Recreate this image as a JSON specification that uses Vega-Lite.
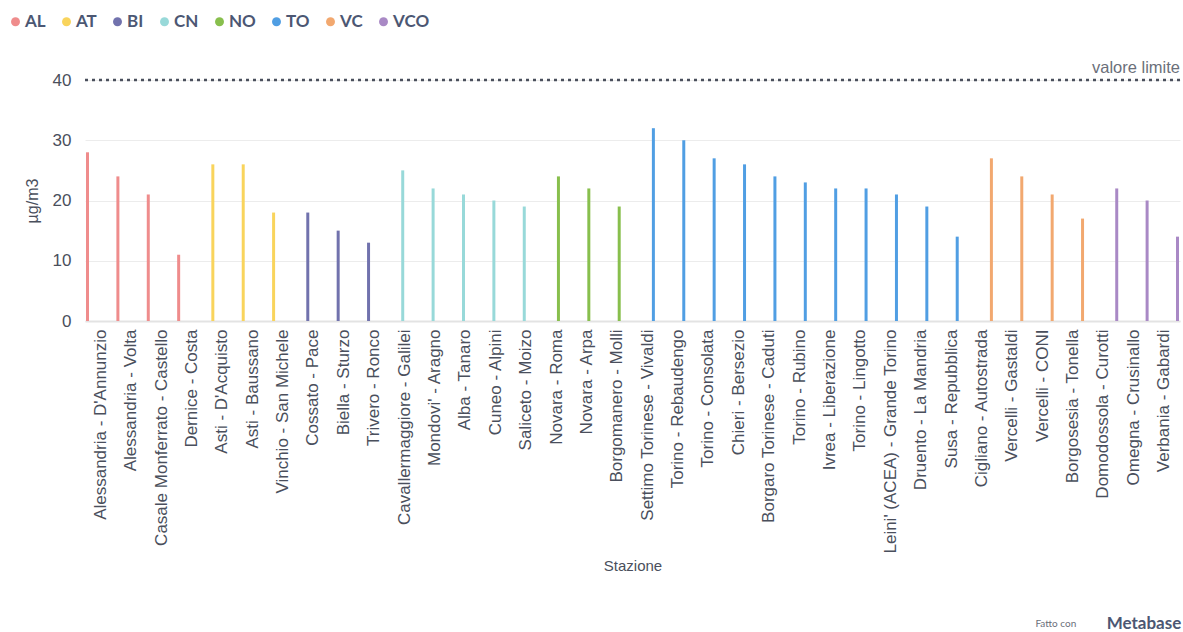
{
  "$schema": "https://vega.github.io/schema/vega-lite/v6.json",
  "width": 1095,
  "height": 241,
  "autosize": {"type": "none"},
  "padding": {"left": 85, "top": 80, "right": 3, "bottom": 311},
  "background": "white",
  "config": {
    "view": {"stroke": null},
    "font": "Liberation Sans",
    "axis": {"labelFont": "Liberation Sans", "titleFont": "Liberation Sans"}
  },
  "title": {
    "text": "Metabase",
    "subtitle": "Fatto con\u2003\u2003\u2003\u2003\u2003\u2003\u2003\u2003\u2003\u2003\u2003\u2003\u2003\u2003\u200b",
    "orient": "bottom",
    "anchor": "end",
    "font": "Lato",
    "fontSize": 17,
    "fontWeight": "bold",
    "color": "#4c5773",
    "subtitleFont": "Lato",
    "subtitleFontSize": 10,
    "subtitleColor": "#6b6f7a",
    "subtitlePadding": -14,
    "offset": 43
  },
  "layer": [
    {
      "data": {
        "values": [
          {"stazione": "Alessandria - D'Annunzio", "provincia": "AL", "valore": 28},
          {"stazione": "Alessandria - Volta", "provincia": "AL", "valore": 24},
          {"stazione": "Casale Monferrato - Castello", "provincia": "AL", "valore": 21},
          {"stazione": "Dernice - Costa", "provincia": "AL", "valore": 11},
          {"stazione": "Asti - D'Acquisto", "provincia": "AT", "valore": 26},
          {"stazione": "Asti - Baussano", "provincia": "AT", "valore": 26},
          {"stazione": "Vinchio - San Michele", "provincia": "AT", "valore": 18},
          {"stazione": "Cossato - Pace", "provincia": "BI", "valore": 18},
          {"stazione": "Biella - Sturzo", "provincia": "BI", "valore": 15},
          {"stazione": "Trivero - Ronco", "provincia": "BI", "valore": 13},
          {"stazione": "Cavallermaggiore - Galilei", "provincia": "CN", "valore": 25},
          {"stazione": "Mondovi' - Aragno", "provincia": "CN", "valore": 22},
          {"stazione": "Alba - Tanaro", "provincia": "CN", "valore": 21},
          {"stazione": "Cuneo - Alpini", "provincia": "CN", "valore": 20},
          {"stazione": "Saliceto - Moizo", "provincia": "CN", "valore": 19},
          {"stazione": "Novara - Roma", "provincia": "NO", "valore": 24},
          {"stazione": "Novara - Arpa", "provincia": "NO", "valore": 22},
          {"stazione": "Borgomanero - Molli", "provincia": "NO", "valore": 19},
          {"stazione": "Settimo Torinese - Vivaldi", "provincia": "TO", "valore": 32},
          {"stazione": "Torino - Rebaudengo", "provincia": "TO", "valore": 30},
          {"stazione": "Torino - Consolata", "provincia": "TO", "valore": 27},
          {"stazione": "Chieri - Bersezio", "provincia": "TO", "valore": 26},
          {"stazione": "Borgaro Torinese - Caduti", "provincia": "TO", "valore": 24},
          {"stazione": "Torino - Rubino", "provincia": "TO", "valore": 23},
          {"stazione": "Ivrea - Liberazione", "provincia": "TO", "valore": 22},
          {"stazione": "Torino - Lingotto", "provincia": "TO", "valore": 22},
          {"stazione": "Leini' (ACEA) - Grande Torino", "provincia": "TO", "valore": 21},
          {"stazione": "Druento - La Mandria", "provincia": "TO", "valore": 19},
          {"stazione": "Susa - Repubblica", "provincia": "TO", "valore": 14},
          {"stazione": "Cigliano - Autostrada", "provincia": "VC", "valore": 27},
          {"stazione": "Vercelli - Gastaldi", "provincia": "VC", "valore": 24},
          {"stazione": "Vercelli - CONI", "provincia": "VC", "valore": 21},
          {"stazione": "Borgosesia - Tonella", "provincia": "VC", "valore": 17},
          {"stazione": "Domodossola - Curotti", "provincia": "VCO", "valore": 22},
          {"stazione": "Omegna - Crusinallo", "provincia": "VCO", "valore": 20},
          {"stazione": "Verbania - Gabardi", "provincia": "VCO", "valore": 14}
        ]
      },
      "mark": {"type": "bar", "size": 3},
      "encoding": {
        "x": {
          "field": "stazione",
          "type": "nominal",
          "sort": null,
          "scale": {"paddingInner": 0, "paddingOuter": 0.02},
          "axis": {
            "title": "Stazione",
            "titleFontSize": 15,
            "titleFontWeight": "normal",
            "titleColor": "#4a4f5c",
            "titlePadding": 37,
            "labelAngle": -90,
            "labelFontSize": 17,
            "labelColor": "#4a4f5c",
            "labelPadding": 8,
            "labelLimit": 300,
            "ticks": false,
            "domainColor": "#e3e3e3",
            "domainWidth": 2,
            "grid": false
          }
        },
        "xOffset": {
          "field": "provincia",
          "type": "nominal",
          "scale": {"domain": ["AL", "AT", "BI", "CN", "NO", "TO", "VC", "VCO"], "paddingInner": 0, "paddingOuter": 0}
        },
        "y": {
          "field": "valore",
          "type": "quantitative",
          "scale": {"domain": [0, 40], "nice": false},
          "axis": {
            "title": "µg/m3",
            "titleFontSize": 16,
            "titleFontWeight": "normal",
            "titleColor": "#4a4f5c",
            "titlePadding": 12,
            "values": [0, 10, 20, 30, 40],
            "labelFontSize": 17,
            "labelColor": "#4a4f5c",
            "labelPadding": 14,
            "ticks": false,
            "domain": false,
            "gridColor": "#ececec",
            "gridWidth": 1
          }
        },
        "color": {
          "field": "provincia",
          "type": "nominal",
          "scale": {
            "domain": ["AL", "AT", "BI", "CN", "NO", "TO", "VC", "VCO"],
            "range": ["#EF8C8C", "#F9D45C", "#7172AD", "#98D9D9", "#88BF4D", "#509EE3", "#F2A86F", "#A989C5"]
          },
          "legend": {
            "title": null,
            "orient": "none",
            "direction": "horizontal",
            "legendX": -78,
            "legendY": -67,
            "symbolType": "circle",
            "symbolSize": 80,
            "symbolStrokeWidth": 0,
            "labelFont": "Lato",
            "labelFontSize": 17,
            "labelFontWeight": "bold",
            "labelColor": "#4c5773",
            "labelOffset": 1,
            "columnPadding": 12
          }
        }
      }
    },
    {
      "data": {"values": [{"limite": 40, "etichetta": "valore limite"}]},
      "mark": {"type": "rule", "strokeDash": [3, 4], "strokeWidth": 2.5, "color": "#4a4f5c"},
      "encoding": {
        "y": {"field": "limite", "type": "quantitative"}
      }
    },
    {
      "data": {"values": [{"limite": 40, "etichetta": "valore limite"}]},
      "mark": {"type": "text", "align": "right", "baseline": "bottom", "dy": -4, "fontSize": 16.5, "color": "#6b6f7a", "font": "Liberation Sans"},
      "encoding": {
        "y": {"field": "limite", "type": "quantitative"},
        "x": {"value": "width"},
        "text": {"field": "etichetta"}
      }
    }
  ]
}
